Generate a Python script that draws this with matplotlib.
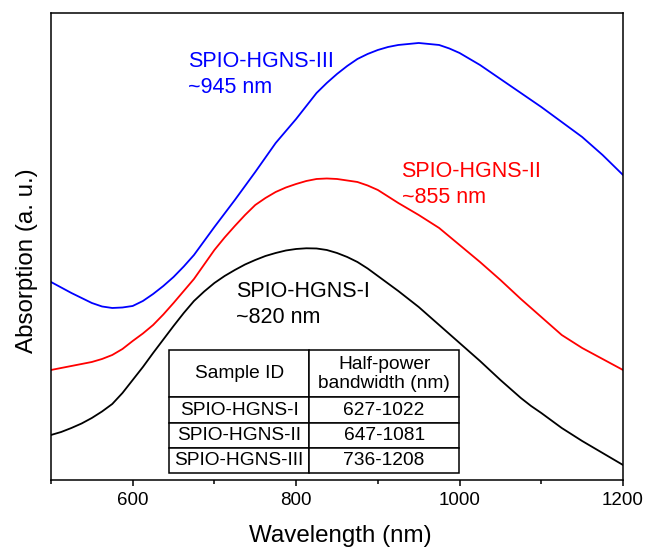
"""UV-vis-NIR absorption spectra of SPIO-HGNS samples."""
import matplotlib
matplotlib.use("Agg")
from matplotlib import pyplot
from matplotlib import ticker

pyplot.rcParams["font.family"] = ["Liberation Sans", "DejaVu Sans"]

# wavelengths (nm)
wavelength = [500, 512.5, 525, 537.5, 550, 562.5, 575, 587.5, 600, 612.5,
              625, 637.5, 650, 662.5, 675, 687.5, 700, 712.5, 725, 737.5,
              750, 762.5, 775, 787.5, 800, 812.5, 825, 837.5, 850, 862.5,
              875, 887.5, 900, 912.5, 925, 937.5, 950, 962.5, 975, 987.5,
              1000, 1012.5, 1025, 1037.5, 1050, 1062.5, 1075, 1087.5, 1100,
              1112.5, 1125, 1137.5, 1150, 1162.5, 1175, 1187.5, 1200]

# absorption (a. u.)
absorb_1 = [45, 48, 52, 56.5, 62, 68.5, 76, 87, 100, 113,
            127, 140.5, 154, 167, 179, 188.5, 197, 204, 210, 215.5,
            220, 224, 227, 229.5, 231, 231.7, 231.5, 230, 227, 223,
            218, 211.5, 204, 196.5, 189, 181, 173, 164, 155, 146,
            137, 128, 119, 109.5, 100, 91, 82, 74, 67,
            59.5, 52, 45.5, 39, 33, 27, 21, 15]
absorb_2 = [110, 112, 114, 116, 118, 121, 125, 131, 139, 146.5,
            155, 165.5, 177, 189, 201, 215.5, 230, 242.5, 254, 265,
            275, 282, 288, 292.5, 296, 299, 301, 301.5, 301, 299.5,
            298, 294.5, 290, 283.5, 277, 271, 265, 258.5, 252, 243.5,
            235, 226.5, 218, 209, 200, 190.5, 181, 172, 163,
            154, 145, 138.5, 132, 126.5, 121, 115.5, 110]
absorb_3 = [198, 192.5, 187, 182, 177, 173.5, 172, 172.5, 174, 179,
            186, 194, 203, 213.5, 225, 239, 253, 266.5, 280, 294,
            308, 322.5, 337, 349, 361, 374, 387, 397, 406, 414,
            421, 426, 430, 433, 435, 436, 437, 436, 435, 431.5,
            427, 421, 415, 408, 401, 394, 387, 380, 373,
            365.5, 358, 350.5, 343, 334, 325, 315, 305]

# table contents
col_labels = ["Sample ID", "Half-power\nbandwidth (nm)"]
samples = ["SPIO-HGNS-I", "SPIO-HGNS-II", "SPIO-HGNS-III"]
bandwidths = ["627-1022", "647-1081", "736-1208"]

fig = pyplot.figure(figsize=(6.46, 5.5), dpi=100)
ax = fig.add_axes([0.0789, 0.1273, 0.8855, 0.8491])

ax.plot(wavelength, absorb_1, color="black", lw=1.3)
ax.plot(wavelength, absorb_2, color="#ff0000", lw=1.3)
ax.plot(wavelength, absorb_3, color="#0000ff", lw=1.3)

# peak annotations (one text per line)
ax.text(668, 413, "SPIO-HGNS-III", color="#0000ff", fontsize=15.5, va="baseline")
ax.text(668, 387, "~945 nm", color="#0000ff", fontsize=15.5, va="baseline")
ax.text(929, 303, "SPIO-HGNS-II", color="#ff0000", fontsize=15.5, va="baseline")
ax.text(929, 277, "~855 nm", color="#ff0000", fontsize=15.5, va="baseline")
ax.text(727, 183, "SPIO-HGNS-I", color="black", fontsize=15.5, va="baseline")
ax.text(727, 157, "~820 nm", color="black", fontsize=15.5, va="baseline")

# bandwidth table
tbl = ax.table(cellText=[list(r) for r in zip(samples, bandwidths)],
               colLabels=col_labels, cellLoc="center", colWidths=[140, 150],
               bbox=[0.2068, 0.0157, 0.5065, 0.2618])
tbl.auto_set_font_size(False)
tbl.set_fontsize(13.8)
for (r, c), cell in tbl.get_celld().items():
    cell.set_linewidth(1.1)
    cell.set_edgecolor("black")
    cell.set_height(47 if r == 0 else 25)

ax.set_xlim(500, 1200)
ax.set_ylim(0, 467)
ax.xaxis.set_major_locator(ticker.MultipleLocator(200))
ax.xaxis.set_minor_locator(ticker.MultipleLocator(100))
ax.set_yticks([])
ax.tick_params(axis="x", which="major", direction="out", length=4.5, width=1.1,
               labelsize=13.5, pad=4.5)
ax.tick_params(axis="x", which="minor", direction="out", length=3.2, width=1.1)
for sp in ax.spines.values():
    sp.set_linewidth(1.1)

ax.set_xlabel("Wavelength (nm)", fontsize=17.4)
ax.xaxis.set_label_coords(0.505, -0.097)
ax.set_ylabel("Absorption (a. u.)", fontsize=17.4)
ax.yaxis.set_label_coords(-0.023, 0.47)

fig.savefig("out.png", dpi=100)
